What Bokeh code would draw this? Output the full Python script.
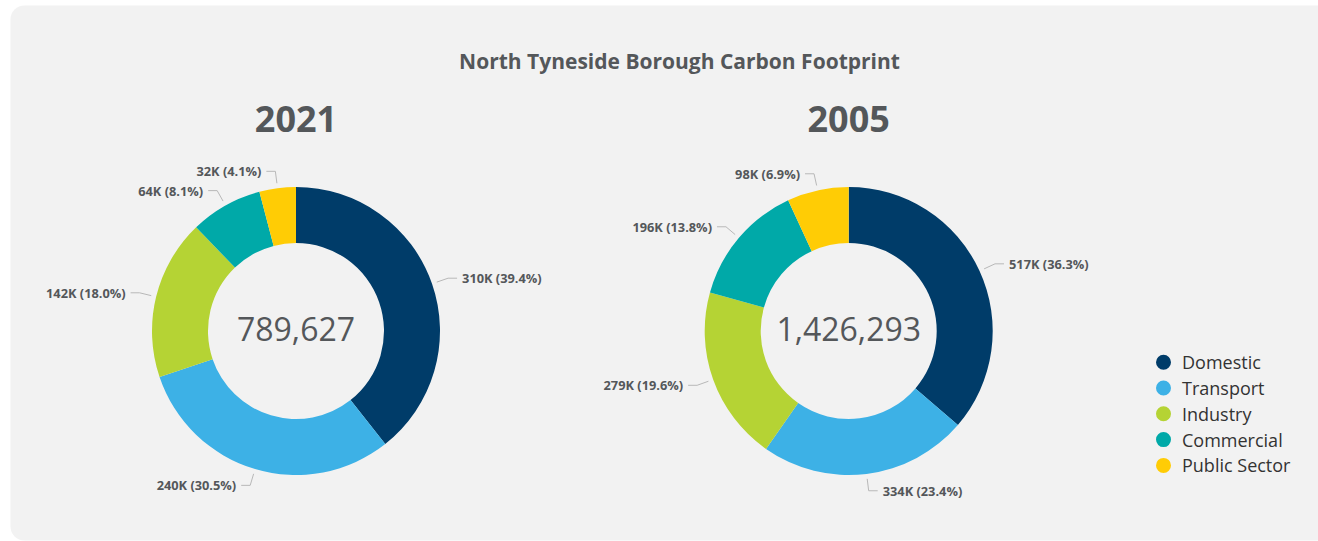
import math
from bokeh.plotting import figure
from bokeh.models import Range1d, ColumnDataSource
from bokeh.embed import file_html
from bokeh.resources import INLINE
from bokeh.core.properties import value

# ---------------- data ----------------
title_text = "North Tyneside Borough Carbon Footprint"
categories = ["Domestic", "Transport", "Industry", "Commercial", "Public Sector"]
colors = ["#003c69", "#3db1e6", "#b5d334", "#00a9a8", "#ffcc05"]
years = ["2021", "2005"]
values_2021 = [310.8, 240.5, 142.0, 64.0, 32.3]   # thousand tonnes CO2
values_2005 = [517.8, 334.2, 279.3, 196.5, 98.5]
totals = [789627, 1426293]

# ---------------- layout ----------------
W, H = 1318, 541
FONT = "Open Sans"
TXT = "#54575a"
R_OUT, R_IN = 144, 88
centers = [(295.5, 210.5), (848.2, 210.5)]

p = figure(width=W, height=H, x_range=Range1d(0, W), y_range=Range1d(0, H),
           output_backend="svg", toolbar_location=None, min_border=0)
p.axis.visible = False
p.grid.visible = False
p.outline_line_color = None
p.background_fill_color = "#ffffff"
p.border_fill_color = "#ffffff"

# card background
p.quad(left=[10], right=[1345], bottom=[1], top=[536], fill_color="#f2f2f2",
       line_color=None, border_radius=14)

p.text(x=[679], y=[481], text=[title_text], text_font=value(FONT), text_font_style="bold",
       text_font_size="21px", text_color=TXT, text_align="center", text_baseline="middle")

for (cx, cy), year, vals, total in zip(centers, years, [values_2021, values_2005], totals):
    s = sum(vals)
    starts, ends, mids = [], [], []
    c = 0.0
    for v in vals:
        c0, c1 = c / s, (c + v) / s
        starts.append(math.pi / 2 - 2 * math.pi * c0)
        ends.append(math.pi / 2 - 2 * math.pi * c1)
        mids.append(math.pi / 2 - 2 * math.pi * (c0 + c1) / 2)
        c += v
    src = ColumnDataSource(dict(x=[cx] * len(vals), y=[cy] * len(vals), start=starts, end=ends,
                                color=colors, cat=categories))
    p.annular_wedge(x="x", y="y", inner_radius=R_IN, outer_radius=R_OUT, start_angle="start",
                    end_angle="end", direction="clock", fill_color="color", line_color=None,
                    source=src)

    # leader lines + labels
    lx, ly, tx, ty, tt, ta = [], [], [], [], [], []
    for v, a in zip(vals, mids):
        ca, sa = math.cos(a), math.sin(a)
        sign = 1 if ca >= 0 else -1
        x1, y1 = cx + (R_OUT + 5) * ca, cy + (R_OUT + 5) * sa
        x2, y2 = cx + (R_OUT + 17) * ca, cy + (R_OUT + 17) * sa
        x3 = x2 + sign * 9
        lx.append([x1, x2, x3])
        ly.append([y1, y2, y2])
        tx.append(x3 + sign * 5)
        ty.append(y2)
        tt.append(f"{math.floor(v)}K ({v / s * 100:.1f}%)")
        ta.append("left" if sign > 0 else "right")
    p.multi_line(xs=lx, ys=ly, line_color="#b8b8b8", line_width=1)
    p.text(x=tx, y=ty, text=tt, text_align=ta, text_baseline="middle", text_font=value(FONT),
           text_font_style="bold", text_font_size="12.8px", text_color=TXT)

    # year heading and total
    p.text(x=[cx], y=[423], text=[year], text_font=value(FONT), text_font_style="bold",
           text_font_size="36px", text_color=TXT, text_align="center", text_baseline="middle")
    p.text(x=[cx], y=[cy + 2], text=[f"{total:,}"], text_font=value(FONT),
           text_font_size="32px", text_color=TXT, text_align="center", text_baseline="middle")

# legend
leg_y = [179.3 - 25.8 * i for i in range(len(categories))]
p.scatter(x=[1163] * len(categories), y=leg_y, size=15, marker="circle", fill_color=colors,
          line_color=None)
p.text(x=[1181.5] * len(categories), y=leg_y, text=categories, text_font=value(FONT),
       text_font_size="18px", text_color="#333333", text_align="left", text_baseline="middle")

open("out.html", "w").write(file_html(p, INLINE))
